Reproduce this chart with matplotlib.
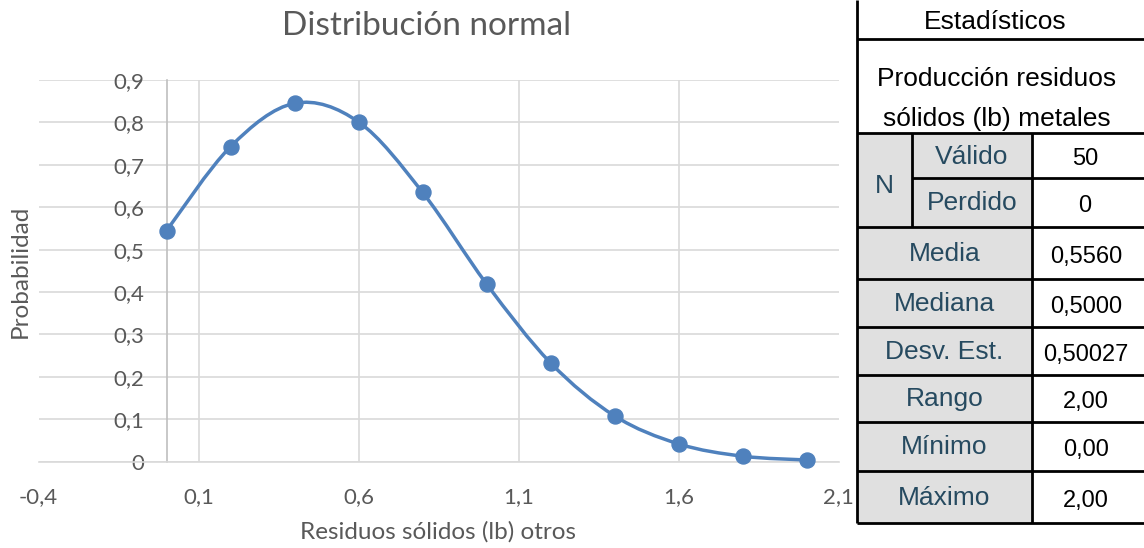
import numpy as np
import matplotlib
matplotlib.use("Agg")
import matplotlib.pyplot as plt
from matplotlib.patches import Rectangle
from matplotlib.path import Path
from matplotlib.patches import PathPatch

# ---------------- data ----------------
x_vals = [0.0, 0.2, 0.4, 0.6, 0.8, 1.0, 1.2, 1.4, 1.6, 1.8, 2.0]
prob_vals = [0.545, 0.743, 0.845, 0.801, 0.635, 0.419, 0.233, 0.108, 0.042, 0.013, 0.004]
x_ticks = [-0.4, 0.1, 0.6, 1.1, 1.6, 2.1]
y_ticks = [0, 0.1, 0.2, 0.3, 0.4, 0.5, 0.6, 0.7, 0.8, 0.9]

title = "Distribución normal"
x_label = "Residuos sólidos (lb) otros"
y_label = "Probabilidad"

table_title = "Estadísticos"
table_header = ["Producción residuos", "sólidos (lb) metales"]
n_label = "N"
n_sub_labels = ["Válido", "Perdido"]
n_sub_values = ["50", "0"]
stat_labels = ["Media", "Mediana", "Desv. Est.", "Rango", "Mínimo", "Máximo"]
stat_values = ["0,5560", "0,5000", "0,50027", "2,00", "0,00", "2,00"]

# ---------------- figure ----------------
W, H = 1144, 548
fig = plt.figure(figsize=(W / 100, H / 100), dpi=100)

def fx(px):
    return px / W

def fy(py):
    return 1 - py / H

FONT = ["Lato", "DejaVu Sans"]
GREY_TXT = "#595959"
BLUE = "#4F81BD"

ax_l, ax_r, ax_t, ax_b = 38.6, 838.6, 80.0, 461.7
ax = fig.add_axes([fx(ax_l), fy(ax_b), fx(ax_r - ax_l), (ax_b - ax_t) / H])
ax.set_xlim(-0.4, 2.1)
ax.set_ylim(0, 0.9)

# smooth curve (Excel-style Catmull-Rom Bezier through points)
xs = np.array(x_vals)
ys = np.array(prob_vals)
verts = [(xs[0], ys[0])]
codes = [Path.MOVETO]
n = len(xs)
for i in range(n - 1):
    p0 = np.array([xs[max(i - 1, 0)], ys[max(i - 1, 0)]])
    p1 = np.array([xs[i], ys[i]])
    p2 = np.array([xs[i + 1], ys[i + 1]])
    p3 = np.array([xs[min(i + 2, n - 1)], ys[min(i + 2, n - 1)]])
    c1 = p1 + (p2 - p0) / 6.0
    c2 = p2 - (p3 - p1) / 6.0
    verts += [tuple(c1), tuple(c2), tuple(p2)]
    codes += [Path.CURVE4, Path.CURVE4, Path.CURVE4]
patch = PathPatch(Path(verts, codes), facecolor="none", edgecolor=BLUE, lw=2.5,
                  capstyle="round", zorder=3)
ax.add_patch(patch)
ax.plot(x_vals, prob_vals, "o", color=BLUE, markersize=10.8, zorder=4, clip_on=False)

ax.set_xticks(x_ticks)
ax.set_yticks(y_ticks)
ax.set_xticklabels([f"{t:.1f}".replace(".", ",") for t in x_ticks])
ax.set_yticklabels(["0"] + [f"{t:.1f}".replace(".", ",") for t in y_ticks[1:]])
ax.grid(True, color="#D9D9D9", lw=1.2)
ax.set_axisbelow(True)
for s in ["top", "right"]:
    ax.spines[s].set_visible(False)
ax.spines["left"].set_position(("data", 0))
ax.spines["left"].set_color("#BFBFBF")
ax.spines["left"].set_linewidth(1.2)
ax.spines["bottom"].set_color("#D9D9D9")
ax.spines["bottom"].set_linewidth(1.2)
ax.tick_params(axis="both", length=0, labelcolor=GREY_TXT, labelsize=16)
ax.tick_params(axis="y", pad=16)
ax.tick_params(axis="x", pad=18)
for lab in ax.get_xticklabels() + ax.get_yticklabels():
    lab.set_family(FONT)
# hide the vertical gridline at -0.4
ax.get_xgridlines()[0].set_visible(False)
ax.get_xgridlines()[-1].set_visible(False)

fig.text(fx(427), fy(26), title, ha="center", va="center", fontsize=24,
         color=GREY_TXT, family=FONT)
fig.text(fx(438), fy(532), x_label, ha="center", va="center", fontsize=17.5,
         color=GREY_TXT, family=FONT)
fig.text(fx(20), fy(271), y_label, ha="center", va="center", fontsize=17.5,
         color=GREY_TXT, family=FONT, rotation=90)

# ---------------- table ----------------
tax = fig.add_axes([0, 0, 1, 1])
tax.set_xlim(0, W)
tax.set_ylim(H, 0)
tax.axis("off")
tax.patch.set_alpha(0)

L, NX, VX, R = 857, 912, 1032, 1146
rows = [133.3, 178.3, 226.7, 279.3, 326.7, 375, 421.7, 470.7, 522.7]
TF = ["Liberation Sans", "DejaVu Sans"]
LBL = "#264A60"
GREYBG = "#E0E0E0"

tax.add_patch(Rectangle((L, 0), R - L, rows[-1], facecolor="white", edgecolor="none", zorder=1))
# grey label cells
tax.add_patch(Rectangle((L, rows[0]), VX - L, rows[-1] - rows[0], facecolor=GREYBG,
                        edgecolor="none", zorder=1))

lw = 2.0
kw = dict(color="black", lw=lw, zorder=3, solid_capstyle="butt")
tax.plot([L, L], [0, rows[-1]], **kw)
tax.plot([L, R], [39.3, 39.3], **kw)
for y in [rows[0], rows[2], rows[3], rows[4], rows[5], rows[6], rows[7], rows[8]]:
    tax.plot([L, R], [y, y], **kw)
tax.plot([NX, R], [rows[1], rows[1]], **kw)
tax.plot([NX, NX], [rows[0], rows[2]], **kw)
tax.plot([VX, VX], [rows[0], rows[-1]], **kw)

fs = 19
vs = 17
tax.text(995, 22, table_title, ha="center", va="center", fontsize=fs, family=TF, color="black", zorder=4)
tax.text(997, 79, table_header[0], ha="center", va="center", fontsize=fs, family=TF, color="black", zorder=4)
tax.text(997, 119, table_header[1], ha="center", va="center", fontsize=fs, family=TF, color="black", zorder=4)
tax.text((L + NX) / 2, 186, n_label, ha="center", va="center", fontsize=fs, family=TF, color=LBL, zorder=4)
for i in range(2):
    yc = (rows[i] + rows[i + 1]) / 2
    tax.text((NX + VX) / 2, yc + 1, n_sub_labels[i], ha="center", va="center", fontsize=fs, family=TF, color=LBL, zorder=4)
    tax.text(1085, yc + 3, n_sub_values[i], ha="center", va="center", fontsize=vs, family=TF, color="black", zorder=4)
for i in range(len(stat_labels)):
    yc = (rows[i + 2] + rows[i + 3]) / 2
    tax.text((L + VX) / 2, yc + 1, stat_labels[i], ha="center", va="center", fontsize=fs, family=TF, color=LBL, zorder=4)
    tax.text(1086, yc + 4, stat_values[i], ha="center", va="center", fontsize=vs, family=TF, color="black", zorder=4)

fig.savefig("out.png", dpi=100)
